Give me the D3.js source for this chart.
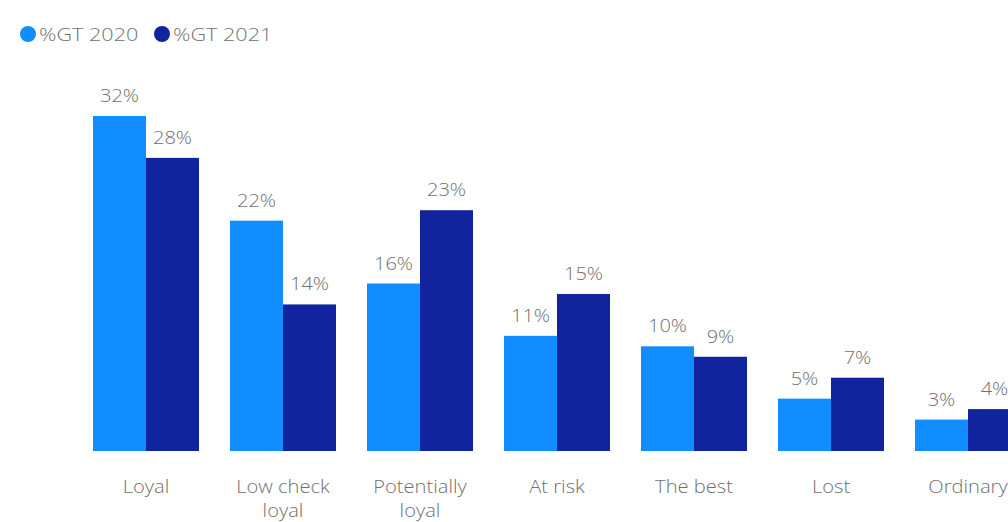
<!DOCTYPE html>
<html>
<head>
<meta charset="utf-8">
<script src="https://cdn.jsdelivr.net/npm/d3@7"></script>
<style>
  html, body { margin: 0; padding: 0; background: #ffffff; }
  svg { display: block; font-family: "Open Sans", "Noto Sans", sans-serif; }
  text { font-weight: 300; }
</style>
</head>
<body>
<svg id="chart" width="1008" height="522"></svg>
<script>
// Customer segments and share of GT per year (%)
const categories = ["Loyal", "Low check\nloyal", "Potentially\nloyal", "At risk", "The best", "Lost", "Ordinary"];
const series = ["%GT 2020", "%GT 2021"];
const values2020 = [32, 22, 16, 11, 10, 5, 3];
const values2021 = [28, 14, 23, 15, 9, 7, 4];
const colors = ["#118DFF", "#12239E"];

const svg = d3.select("#chart");
const baseline = 451;
const plotTop = 116;
const textColor = "#707070";
const stretch = "scale(1.15,1)";

const step = 137, inner = 31 / step;
const x0 = d3.scaleBand()
  .domain(categories)
  .range([93 - 15.5, 93 - 15.5 + categories.length * step])
  .paddingInner(inner)
  .paddingOuter(inner / 2);

const x1 = d3.scaleBand().domain(series).range([0, x0.bandwidth()]);

const y = d3.scaleLinear().domain([0, 32]).range([baseline, plotTop]);

const rows = categories.map((c, i) => ({ cat: c, vals: [values2020[i], values2021[i]] }));

const g = svg.append("g");
const groups = g.selectAll("g.grp").data(rows).join("g")
  .attr("class", "grp")
  .attr("transform", d => `translate(${x0(d.cat)},0)`);

groups.selectAll("rect").data(d => d.vals.map((v, k) => ({ s: series[k], v, k }))).join("rect")
  .attr("x", d => x1(d.s))
  .attr("y", d => y(d.v))
  .attr("width", x1.bandwidth())
  .attr("height", d => baseline - y(d.v))
  .attr("fill", d => colors[d.k]);

// Data labels above each bar
groups.selectAll("text.val").data(d => d.vals.map((v, k) => ({ s: series[k], v, k }))).join("text")
  .attr("class", "val")
  .attr("transform", d => `translate(${x1(d.s) + x1.bandwidth() / 2},${y(d.v) - 14}) ${stretch}`)
  .attr("text-anchor", "middle")
  .attr("font-size", 17.5)
  .attr("fill", textColor)
  .text(d => d.v + "%");

// Category axis labels (no axis line or ticks)
const xAxis = d3.axisBottom(x0).tickSize(0).tickFormat("");
const axG = svg.append("g").attr("transform", `translate(0,${baseline})`).call(xAxis);
axG.select(".domain").remove();
axG.selectAll(".tick").each(function(d) {
  d.split("\n").forEach((line, i) => {
    d3.select(this).append("text")
      .attr("transform", `translate(0,${41.5 + i * 24}) ${stretch}`)
      .attr("text-anchor", "middle")
      .attr("fill", textColor)
      .attr("font-size", 17.5)
      .attr("font-family", "\"Open Sans\", \"Noto Sans\", sans-serif")
      .text(line);
  });
});

// Legend
const legend = svg.append("g");
const legendX = [28, 162];
series.forEach((s, i) => {
  legend.append("circle").attr("cx", legendX[i]).attr("cy", 34).attr("r", 8).attr("fill", colors[i]);
  legend.append("text")
    .attr("transform", `translate(${legendX[i] + 11},41) scale(1.2,1)`)
    .attr("font-size", 18).attr("fill", textColor)
    .text(s);
});
</script>
</body>
</html>
